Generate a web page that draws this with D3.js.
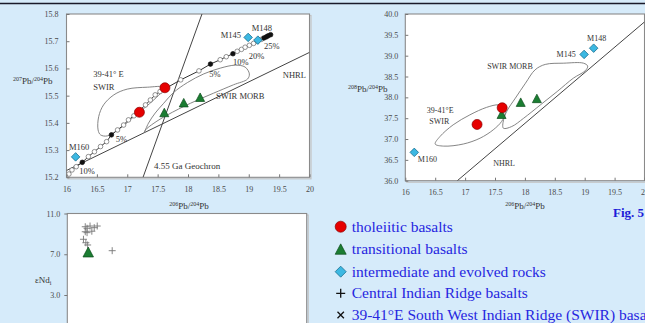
<!DOCTYPE html>
<html><head><meta charset="utf-8">
<script src="https://cdn.jsdelivr.net/npm/d3@7"></script>
<style>
html,body{margin:0;padding:0;background:#d6ebfa;overflow:hidden}
svg{display:block}
text{font-family:"Liberation Serif","Times New Roman",serif}
</style></head><body>
<svg id="c" width="645" height="323"></svg>
<script>
// ---------------- DATA ----------------
const xTicks206 = [16, 16.5, 17, 17.5, 18, 18.5, 19, 19.5, 20];
const yTicks207 = [15.2, 15.3, 15.4, 15.5, 15.6, 15.7, 15.8];
const yTicks208 = [36.0, 36.5, 37.0, 37.5, 38.0, 38.5, 39.0, 39.5, 40.0];
const yTicksNd = [3.0, 7.0, 11.0];

const tholeiitic206 = [17.20, 17.62];
const tholeiitic207 = [15.439, 15.529];
const tholeiitic208 = [37.35, 37.75];

const transitional206 = [17.61, 17.93, 18.20];
const transitional207 = [15.436, 15.472, 15.492];
const transitional208 = [37.58, 37.87, 37.96];

const evolvedNames = ["M160", "M145", "M148"];
const evolved206 = [16.15, 18.99, 19.15];
const evolved207 = [15.275, 15.714, 15.704];
const evolved208 = [36.68, 39.03, 39.18];

// mixing curve (206Pb/204Pb, 207Pb/204Pb, marker: 1 = filled % step, 0 = open)
const mix206 = [16.04,16.09,16.16,16.26,16.36,16.46,16.56,16.66,16.74,16.84,16.94,17.02,17.11,17.30,17.38,17.46,17.54,17.88,18.18,18.37,18.53,18.63,18.74,18.81,18.88,18.94,19.01,19.08,19.14,19.21,19.25,19.29,19.32,19.36];
const mix207 = [15.212,15.227,15.239,15.255,15.276,15.294,15.313,15.331,15.356,15.374,15.392,15.411,15.426,15.466,15.484,15.503,15.515,15.558,15.591,15.616,15.632,15.643,15.654,15.663,15.670,15.678,15.685,15.692,15.700,15.707,15.712,15.716,15.720,15.724];
const mixFilled = [0,0,0,1,0,0,0,0,1,0,0,0,0,0,0,0,0,0,0,1,0,0,1,0,0,0,0,0,0,0,1,1,1,1];
const mixLabels = ["10%","5%","5%","10%","20%","25%"];
const mixLabel206 = [16.21,16.81,18.35,18.74,19.00,19.25];
const mixLabel207 = [15.212,15.330,15.569,15.613,15.635,15.672];

// fields, 207 diagram
const swir206a = [17.60,17.33,17.00,16.78,16.61,16.53,16.52,16.56,16.67,16.89,17.11,17.44,17.57];
const swir207a = [15.531,15.531,15.524,15.503,15.466,15.423,15.374,15.356,15.352,15.381,15.423,15.485,15.515];
const morb206a = [17.28,17.35,17.46,17.60,17.76,17.99,18.26,18.53,18.78,18.94,19.01,18.98,18.75,18.42,18.04,17.66,17.44,17.30];
const morb207a = [15.364,15.399,15.436,15.472,15.511,15.548,15.580,15.601,15.612,15.605,15.580,15.561,15.540,15.509,15.472,15.429,15.399,15.374];
// fields, 208 diagram
const swir206b = [16.50,16.58,16.80,17.08,17.36,17.56,17.65,17.67,17.61,17.47,17.25,16.97,16.64];
const swir208b = [36.88,37.06,37.34,37.58,37.76,37.82,37.76,37.62,37.42,37.22,37.02,36.88,36.83];
const morb206b = [17.64,17.65,17.71,17.84,18.01,18.17,18.34,18.65,18.98,19.05,19.01,18.81,18.54,18.26,17.98,17.78];
const morb208b = [37.26,37.50,37.70,37.98,38.34,38.66,38.79,38.82,38.82,38.75,38.64,38.46,38.14,37.82,37.50,37.30];

// reference lines
const nhrl207 = [[16.0, 15.225], [20.0, 15.659]];
const geochron = [[17.26, 15.2], [18.23, 15.8]];
const nhrl208 = [[16.87, 36.0], [20.0, 39.81]];

// eNd diagram
const ndTransSr = [0.70235];
const ndTransNd = [7.15];
const cirSr = [0.70230,0.70233,0.70238,0.70245,0.70250,0.70230,0.70233,0.70241,0.70227,0.70231,0.70234,0.70275];
const cirNd = [9.70,9.55,9.77,9.61,9.77,9.21,9.12,9.26,8.47,8.13,7.91,7.35];

const legendLabels = ["tholeiitic basalts","transitional basalts","intermediate and evolved rocks","Central Indian Ridge basalts","39-41°E South West Indian Ridge (SWIR) basalts"];

// ---------------- DRAW ----------------
const svg = d3.select("#c");
svg.append("rect").attr("width",645).attr("height",323).attr("fill","#d6ebfa");
svg.append("line").attr("x1",0).attr("x2",645).attr("y1",3.5).attr("y2",3.5).attr("stroke","#1a1a2a").attr("stroke-width",1.4);

const RED="#e60000", GREEN="#1b7d32", CYAN="#3cb8e2";
const smooth = d3.line().curve(d3.curveCatmullRomClosed.alpha(0.5));

function frame(g, x0, y0, x1, y1){
  g.append("rect").attr("x",x0+1.5).attr("y",y0+1.5).attr("width",x1-x0).attr("height",y1-y0)
   .attr("fill","none").attr("stroke","#c4c4c4").attr("stroke-width",1.2);
  g.append("rect").attr("x",x0).attr("y",y0).attr("width",x1-x0).attr("height",y1-y0)
   .attr("fill","#ffffff").attr("stroke","#8a8a8a").attr("stroke-width",1.1);
}
function styleAxis(a){
  a.select(".domain").remove();
  a.selectAll(".tick line").attr("stroke","#777");
  a.selectAll(".tick text").attr("fill","#4a4a4a").attr("font-size","8px").attr("font-family","Liberation Serif, serif");
}
function tri(g, cx, cy, s){
  const h = s*0.9;
  g.append("path").attr("d",`M${cx},${cy-h*0.6}L${cx+s/2},${cy+h*0.45}L${cx-s/2},${cy+h*0.45}Z`)
   .attr("fill",GREEN).attr("stroke","#0d4d1c").attr("stroke-width",0.7);
}
function dia(g, cx, cy, s){
  g.append("path").attr("d",`M${cx},${cy-s/2}L${cx+s/2},${cy}L${cx},${cy+s/2}L${cx-s/2},${cy}Z`)
   .attr("fill",CYAN).attr("stroke","#1a6f8f").attr("stroke-width",0.8);
}
function circ(g, cx, cy, r){
  g.append("circle").attr("cx",cx).attr("cy",cy).attr("r",r).attr("fill",RED).attr("stroke","#8a0000").attr("stroke-width",0.7);
}
function pbLabel(g, x, y, top, anchor){
  const t = g.append("text").attr("x",x).attr("y",y).attr("font-size","9px").attr("fill","#333").attr("text-anchor",anchor||"start");
  t.append("tspan").attr("font-size","6px").attr("dy","-3").text(top);
  t.append("tspan").attr("dy","3").text("Pb/");
  t.append("tspan").attr("font-size","6px").attr("dy","-3").text("204");
  t.append("tspan").attr("dy","3").text("Pb");
}
function note(g, x, y, txt, anchor, size){
  g.append("text").attr("x",x).attr("y",y).attr("font-size",(size||8.5)+"px").attr("fill","#333")
   .attr("text-anchor",anchor||"start").text(txt);
}

// ----- Chart 1: 207Pb/204Pb vs 206Pb/204Pb -----
{
  const x = d3.scaleLinear([16,20],[66.5,309.5]);
  const y = d3.scaleLinear([15.2,15.8],[177.3,14]);
  const g = svg.append("g");
  frame(g, x(16), y(15.8), x(20), y(15.2));
  const clipId="clip1";
  g.append("clipPath").attr("id",clipId).append("rect").attr("x",x(16)).attr("y",y(15.8)).attr("width",x(20)-x(16)).attr("height",y(15.2)-y(15.8));
  const p = g.append("g").attr("clip-path",`url(#${clipId})`);

  const ax = g.append("g").attr("transform",`translate(0,${y(15.2)})`)
    .call(d3.axisBottom(x).tickValues(xTicks206).tickSize(-3).tickPadding(9).tickFormat(d3.format("")));
  styleAxis(ax);
  const ay = g.append("g").attr("transform",`translate(${x(16)},0)`)
    .call(d3.axisLeft(y).tickValues(yTicks207).tickSize(-3).tickPadding(8).tickFormat(d3.format(".1f")));
  styleAxis(ay);

  const ln = d3.line().x(d=>x(d[0])).y(d=>y(d[1]));
  p.append("path").attr("d",ln(nhrl207)).attr("stroke","#444").attr("fill","none").attr("stroke-width",1);
  p.append("path").attr("d",ln(geochron)).attr("stroke","#444").attr("fill","none").attr("stroke-width",1);

  p.append("path").attr("d",smooth(swir206a.map((v,i)=>[x(v),y(swir207a[i])])))
    .attr("fill","none").attr("stroke","#777").attr("stroke-width",0.9);
  p.append("path").attr("d",smooth(morb206a.map((v,i)=>[x(v),y(morb207a[i])])))
    .attr("fill","none").attr("stroke","#777").attr("stroke-width",0.9);

  const mpts = mix206.map((v,i)=>[v,mix207[i]]);
  p.append("path").attr("d",ln(mpts)).attr("stroke","#333").attr("fill","none").attr("stroke-width",1);
  mpts.forEach((d,i)=>{
    p.append("circle").attr("cx",x(d[0])).attr("cy",y(d[1])).attr("r",2.3)
      .attr("fill",mixFilled[i]?"#111":"#fff").attr("stroke",mixFilled[i]?"#111":"#666").attr("stroke-width",0.7);
  });
  mixLabels.forEach((t,i)=>note(g, x(mixLabel206[i]), y(mixLabel207[i]), t, "start", 8.5));

  note(g, x(16.44), y(15.569), "39-41° E");
  note(g, x(16.44), y(15.521), "SWIR");
  note(g, x(18.86), y(15.486), "SWIR MORB", "middle");
  note(g, x(19.56), y(15.565), "NHRL");
  note(g, x(17.44), y(15.231), "4.55 Ga Geochron", "start", 9);

  transitional206.forEach((v,i)=>tri(p, x(v), y(transitional207[i]), 9));
  tholeiitic206.forEach((v,i)=>circ(p, x(v), y(tholeiitic207[i]), 5));
  evolved206.forEach((v,i)=>dia(p, x(v), y(evolved207[i]), 8.5));
  const nx = [16.04, 18.54, 19.05], ny = [15.300, 15.711, 15.738];
  evolvedNames.forEach((n,i)=>note(g, x(nx[i]), y(ny[i]), n));

  pbLabel(g, 13, 84, "207");
  pbLabel(g, 189, 209, "206", "middle");
}

// ----- Chart 2: 208Pb/204Pb vs 206Pb/204Pb -----
{
  const x = d3.scaleLinear([16,20],[405.3,644.5]);
  const y = d3.scaleLinear([36,40],[180.7,14]);
  const g = svg.append("g");
  frame(g, x(16), y(40), x(20), y(36));
  g.append("clipPath").attr("id","clip2").append("rect").attr("x",x(16)).attr("y",y(40)).attr("width",x(20)-x(16)).attr("height",y(36)-y(40));
  const p = g.append("g").attr("clip-path","url(#clip2)");

  const ax = g.append("g").attr("transform",`translate(0,${y(36)})`)
    .call(d3.axisBottom(x).tickValues(xTicks206).tickSize(-3).tickPadding(9).tickFormat(d3.format("")));
  styleAxis(ax);
  const ay = g.append("g").attr("transform",`translate(${x(16)},0)`)
    .call(d3.axisLeft(y).tickValues(yTicks208).tickSize(-3).tickPadding(7).tickFormat(d3.format(".1f")));
  styleAxis(ay);

  const ln = d3.line().x(d=>x(d[0])).y(d=>y(d[1]));
  p.append("path").attr("d",ln(nhrl208)).attr("stroke","#444").attr("fill","none").attr("stroke-width",1);
  p.append("path").attr("d",smooth(swir206b.map((v,i)=>[x(v),y(swir208b[i])])))
    .attr("fill","none").attr("stroke","#777").attr("stroke-width",0.9);
  p.append("path").attr("d",smooth(morb206b.map((v,i)=>[x(v),y(morb208b[i])])))
    .attr("fill","none").attr("stroke","#777").attr("stroke-width",0.9);

  note(g, x(16.36), y(37.62), "39-41°E", "start", 8);
  note(g, x(16.40), y(37.35), "SWIR", "start", 8);
  note(g, x(17.75), y(38.67), "SWIR MORB", "middle", 8);
  note(g, x(17.47), y(36.35), "NHRL", "start", 8);

  transitional206.forEach((v,i)=>tri(p, x(v), y(transitional208[i]), 9));
  tholeiitic206.forEach((v,i)=>circ(p, x(v), y(tholeiitic208[i]), 5));
  evolved206.forEach((v,i)=>dia(p, x(v), y(evolved208[i]), 8.5));
  const nx = [16.21, 18.53, 19.04], ny = [36.46, 38.96, 39.35];
  evolvedNames.forEach((n,i)=>note(g, x(nx[i]), y(ny[i]), n, "start", 8));

  pbLabel(g, 348, 92, "208");
  pbLabel(g, 525, 209, "206", "middle");
}

// ----- Chart 3: eNd -----
{
  const x = d3.scaleLinear([0.702,0.706],[67.3,306.7]);
  const y = d3.scaleLinear([3,11],[295,213.5]);
  const g = svg.append("g");
  frame(g, x(0.702), y(11), x(0.706), 340);
  const ay = g.append("g").attr("transform",`translate(${x(0.702)},0)`)
    .call(d3.axisLeft(y).tickValues(yTicksNd).tickSize(3).tickPadding(4).tickFormat(d3.format(".1f")));
  styleAxis(ay);
  const t = g.append("text").attr("x",35).attr("y",283).attr("font-size","9px").attr("fill","#333");
  t.append("tspan").text("εNd");
  t.append("tspan").attr("font-size","6px").attr("dy","2").text("i");

  cirSr.forEach((v,i)=>{
    const cx=x(v), cy=y(cirNd[i]);
    g.append("path").attr("d",`M${cx-3.5},${cy}H${cx+3.5}M${cx},${cy-3.5}V${cy+3.5}`).attr("stroke","#777").attr("stroke-width",0.9);
  });
  ndTransSr.forEach((v,i)=>tri(g, x(v), y(ndTransNd[i]), 10.5));
}

// ----- Legend -----
{
  const g = svg.append("g");
  const lx = 340.7, ys = [226.7, 249.3, 271.7, 293.3, 315];
  circ(g, lx, ys[0], 5.5);
  tri(g, lx, ys[1]+0.5, 11);
  dia(g, lx, ys[2], 11);
  g.append("path").attr("d",`M${lx-4.5},${ys[3]}H${lx+4.5}M${lx},${ys[3]-4.5}V${ys[3]+4.5}`).attr("stroke","#111").attr("stroke-width",1.3);
  g.append("path").attr("d",`M${lx-3.2},${ys[4]-3.2}L${lx+3.2},${ys[4]+3.2}M${lx-3.2},${ys[4]+3.2}L${lx+3.2},${ys[4]-3.2}`).attr("stroke","#111").attr("stroke-width",1.3);
  legendLabels.forEach((t,i)=>{
    g.append("text").attr("x",351.7).attr("y",ys[i]+5).attr("font-size","15.5px").attr("fill","#2626e0").text(t);
  });
  g.append("text").attr("x",613).attr("y",217).attr("font-size","13px").attr("font-weight","bold").attr("fill","#1c1cd8").text("Fig. 5");
}
</script>
</body></html>
